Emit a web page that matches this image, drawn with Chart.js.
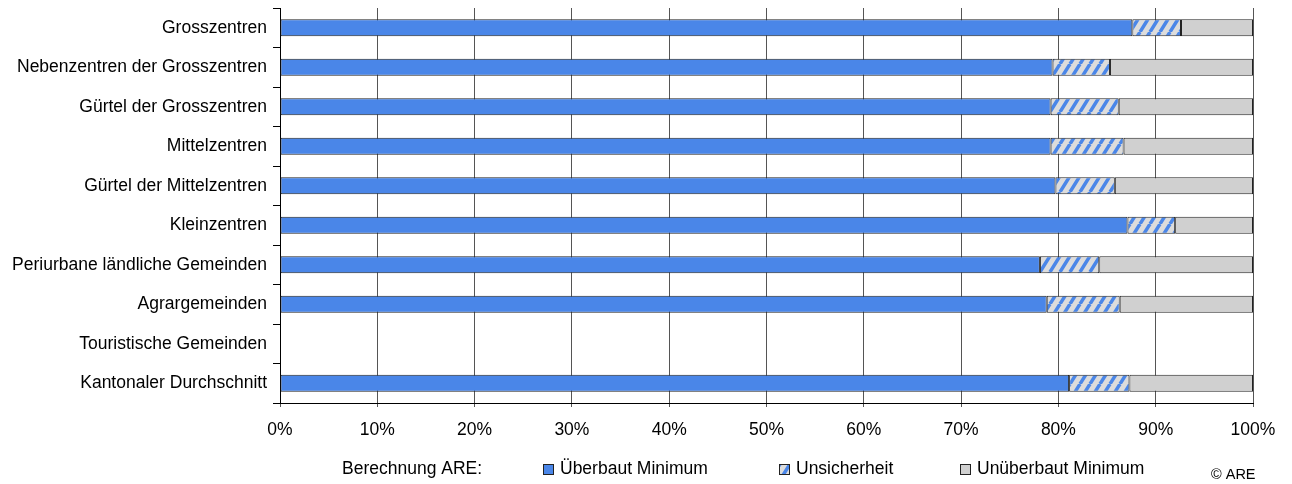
<!DOCTYPE html>
<html>
<head>
<meta charset="utf-8">
<script src="https://cdn.jsdelivr.net/npm/chart.js@4/dist/chart.umd.min.js"></script>
<style>
  html, body { margin: 0; padding: 0; background: #fff; }
  #wrap { width: 1292px; height: 484px; }
</style>
</head>
<body>
<div id="wrap"><canvas id="chart" width="1292" height="484"></canvas></div>
<script>
const categories = [
    'Grosszentren',
    'Nebenzentren der Grosszentren',
    'Gürtel der Grosszentren',
    'Mittelzentren',
    'Gürtel der Mittelzentren',
    'Kleinzentren',
    'Periurbane ländliche Gemeinden',
    'Agrargemeinden',
    'Touristische Gemeinden',
    'Kantonaler Durchschnitt',
];
const ueberbautMinimum = [87.6, 79.4, 79.2, 79.2, 79.7, 87.1, 78.1, 78.8, null, 81.1];
const unsicherheit = [5.0, 5.9, 7.0, 7.5, 6.1, 4.9, 6.1, 7.5, null, 6.2];
const unueberbautMinimum = [7.4, 14.7, 13.8, 13.3, 14.2, 8.0, 15.8, 13.7, null, 12.7];
const xTicks = [0, 10, 20, 30, 40, 50, 60, 70, 80, 90, 100];

const FONT = 'Liberation Sans, Arial, sans-serif';
const BLUE = '#4a86e8';
const GREY = '#d0d0d0';

// light grey tile with steep blue diagonal stripes
function hatchPattern(ctx) {
    const w = 10, h = 16;
    const c = document.createElement('canvas');
    c.width = w; c.height = h;
    const g = c.getContext('2d');
    g.fillStyle = '#dcdcdc';
    g.fillRect(0, 0, w, h);
    g.strokeStyle = BLUE;
    g.lineWidth = 3.5;
    g.beginPath();
    for (const dx of [-w, 0, w]) {
        g.moveTo(dx, h);
        g.lineTo(dx + w, 0);
    }
    g.stroke();
    return ctx.createPattern(c, 'repeat');
}

const canvas = document.getElementById('chart');
const ctx = canvas.getContext('2d');
const hatch = hatchPattern(ctx);

const legendPlugin = {
    id: 'areLegend',
    afterDraw(chart) {
        const c = chart.ctx;
        c.save();
        c.font = '17.5px ' + FONT;
        c.fillStyle = '#000';
        c.textBaseline = 'middle';
        c.textAlign = 'left';
        c.fillText('Berechnung ARE:', 342, 469);
        const items = [
            { x: 543, fill: BLUE, text: 'Überbaut Minimum' },
            { x: 779, fill: hatch, text: 'Unsicherheit' },
            { x: 960, fill: GREY, text: 'Unüberbaut Minimum' },
        ];
        items.forEach(it => {
            c.fillStyle = it.fill;
            c.fillRect(it.x, 464, 11, 11);
            c.strokeStyle = '#222';
            c.lineWidth = 1;
            c.strokeRect(it.x + 0.5, 464.5, 10, 10);
            c.fillStyle = '#000';
            c.fillText(it.text, it.x + 17, 469);
        });
        c.font = '14.5px ' + FONT;
        c.fillText('© ARE', 1211, 475);
        c.restore();
    }
};

const barStyle = {
    borderColor: '#222',
    borderWidth: 1,
    borderSkipped: false,
    barPercentage: 0.43,
    categoryPercentage: 1,
};

new Chart(ctx, {
    type: 'bar',
    data: {
        labels: categories,
        datasets: [
            { label: 'Überbaut Minimum', data: ueberbautMinimum, backgroundColor: BLUE, ...barStyle },
            { label: 'Unsicherheit', data: unsicherheit, backgroundColor: hatch, ...barStyle },
            { label: 'Unüberbaut Minimum', data: unueberbautMinimum, backgroundColor: GREY, ...barStyle },
        ]
    },
    options: {
        indexAxis: 'y',
        responsive: false,
        animation: false,
        layout: { padding: { top: 8, right: 39, bottom: 0, left: 0 } },
        scales: {
            x: {
                stacked: true,
                min: 0,
                max: 100,
                afterBuildTicks: (axis) => { axis.ticks = xTicks.map(v => ({ value: v })); },
                afterFit: (axis) => { axis.height = 81; axis.paddingLeft = 0; axis.paddingRight = 0; },
                grid: { color: '#555', lineWidth: 1, tickLength: 4 },
                border: { color: '#000', width: 1 },
                ticks: {
                    color: '#000',
                    padding: 13,
                    maxRotation: 0,
                    font: { family: FONT, size: 17.5 },
                    callback: (v) => v + '%'
                }
            },
            y: {
                stacked: true,
                afterFit: (axis) => { axis.width = 280; axis.paddingTop = 0; axis.paddingBottom = 0; },
                grid: { drawOnChartArea: false, color: '#000', tickLength: 7, offset: true },
                border: { color: '#000', width: 1 },
                ticks: {
                    color: '#000',
                    padding: 6,
                    font: { family: FONT, size: 17.5 }
                }
            }
        },
        plugins: {
            legend: { display: false },
            tooltip: { enabled: false }
        }
    },
    plugins: [legendPlugin]
});
</script>
</body>
</html>
